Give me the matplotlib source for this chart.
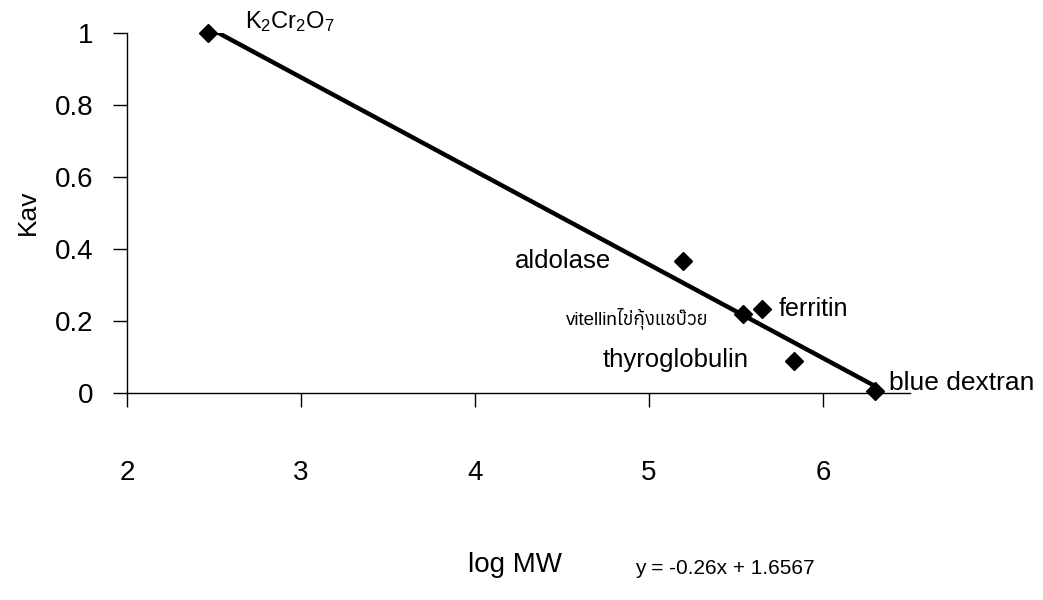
import numpy as np
import matplotlib
matplotlib.use("Agg")
import matplotlib.pyplot as plt
from matplotlib import font_manager
from matplotlib.ft2font import FT2Font

# calibration standards: log MW vs Kav
names = ["K$_2$Cr$_2$O$_7$", "aldolase", "vitellinไข่กุ้งแชบ๊วย", "ferritin", "thyroglobulin", "blue dextran"]
log_mw = [2.466, 5.195, 5.54, 5.65, 5.83, 6.30]
kav = [1.0, 0.367, 0.219, 0.233, 0.089, 0.006]
slope = -0.26
intercept = 1.6567
x_ticks = [2, 3, 4, 5, 6]
y_ticks = [0, 0.2, 0.4, 0.6, 0.8, 1]


def has_thai(path):
    try:
        return FT2Font(path).get_char_index(0x0E44) != 0
    except Exception:
        return False


thai = sorted({f.name for f in font_manager.fontManager.ttflist if has_thai(f.fname)})
fam = ["Liberation Sans", "DejaVu Sans"] + thai[:1]

plt.rcParams["font.family"] = fam
plt.rcParams["mathtext.default"] = "regular"

fig = plt.figure(figsize=(10.43, 6), dpi=100)
ax = fig.add_axes([0.1218, 0.345, 0.7508, 0.600])

xl = np.array([log_mw[0], log_mw[-1]])
ax.plot(xl, slope * xl + intercept, color="black", lw=3.2, zorder=2)
ax.plot(log_mw, kav, "D", color="black", ms=9, zorder=3, clip_on=False)

ax.set_xlim(2, 6.5)
ax.set_ylim(0, 1)
ax.set_xticks(x_ticks)
ax.set_yticks(y_ticks)
ax.set_yticklabels(["0", "0.2", "0.4", "0.6", "0.8", "1"])
ax.tick_params(axis="x", direction="out", length=10, width=1, pad=38, labelsize=20)
ax.tick_params(axis="y", direction="out", length=10, width=1, pad=14.5, labelsize=20)
for s in ["top", "right"]:
    ax.spines[s].set_visible(False)
for s in ["left", "bottom"]:
    ax.spines[s].set_linewidth(1)

# point labels
ax.text(245 / 1043, 1 - 22 / 600, names[0], transform=fig.transFigure, fontsize=17, va="center", ha="left")
ax.annotate(names[1], (log_mw[1], kav[1]), xytext=(-52, 0), textcoords="offset points",
            ha="right", va="center", fontsize=18.5)
ax.annotate(names[2], (log_mw[2], kav[2]), xytext=(-25, -3), textcoords="offset points",
            ha="right", va="center", fontsize=13.5)
ax.annotate(names[3], (log_mw[3], kav[3]), xytext=(12, 0), textcoords="offset points",
            ha="left", va="center", fontsize=18)
ax.annotate(names[4], (log_mw[4], kav[4]), xytext=(-32, 1), textcoords="offset points",
            ha="right", va="center", fontsize=18.5)
ax.annotate(names[5], (log_mw[5], kav[5]), xytext=(10, 6), textcoords="offset points",
            ha="left", va="center", fontsize=19)

fig.text(28 / 1043, 1 - 212 / 600, "Kav", rotation=90, ha="center", va="center", fontsize=19)
fig.text(515 / 1043, 1 - 565 / 600, "log MW", ha="center", va="center", fontsize=20)
fig.text(635 / 1043, 1 - 568 / 600, "y = -0.26x + 1.6567", ha="left", va="center", fontsize=15)

fig.savefig("out.png", dpi=100)
